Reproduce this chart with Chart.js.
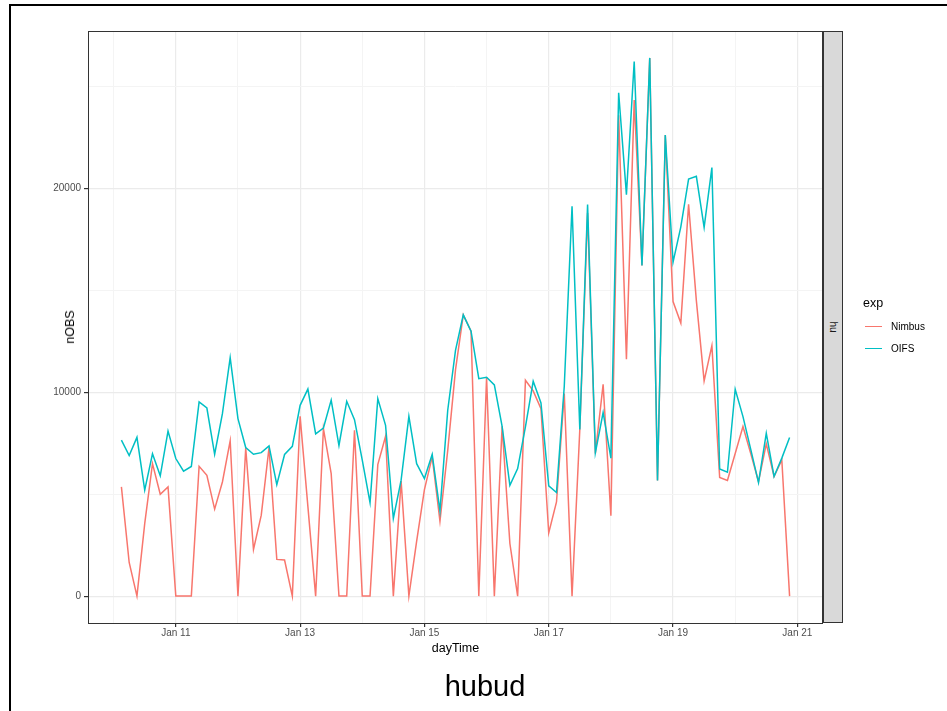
<!DOCTYPE html>
<html>
<head>
<meta charset="utf-8">
<script src="https://cdn.jsdelivr.net/npm/chart.js@4.4.0/dist/chart.umd.min.js"></script>
<style>
  body { margin: 0; background: #fff; font-family: 'Liberation Sans', Arial, sans-serif; }
  #wrap { position: relative; width: 947px; height: 711px; overflow: hidden; }
  #frame { position: absolute; left: 9px; top: 4px; width: 980px; height: 760px; border-left: 2px solid #000; border-top: 2px solid #000; }
  #box { position: absolute; left: 0; top: 0; width: 947px; height: 711px; }
  .txt { position: absolute; white-space: nowrap; color: #000; }
  #strip { position: absolute; left: 823px; top: 31px; width: 20px; height: 592px; box-sizing: border-box; background: #D9D9D9; border: 1px solid #333; }
  .key { position: absolute; left: 865px; width: 17px; height: 1.5px; }
</style>
</head>
<body>
<div id="wrap">
  <div id="box"><canvas id="graf" width="947" height="711"></canvas></div>
  <div id="frame"></div>
  <div id="strip"></div>
  <div class="txt" style="left:833px;top:327px;font-size:10px;color:#1A1A1A;transform:translate(-50%,-50%) rotate(90deg);">hu</div>
  <div class="txt" style="left:70px;top:327px;font-size:12.5px;transform:translate(-50%,-50%) rotate(-90deg);">nOBS</div>
  <div class="txt" style="left:455.5px;top:648px;font-size:12.5px;transform:translate(-50%,-50%);">dayTime</div>
  <div class="txt" style="left:485px;top:686px;font-size:29px;transform:translate(-50%,-50%);">hubud</div>
  <div class="txt" style="left:863px;top:303px;font-size:12.5px;transform:translateY(-50%);">exp</div>
  <div class="key" style="top:325.5px;background:#F8766D;"></div>
  <div class="key" style="top:347.5px;background:#00BFC4;"></div>
  <div class="txt" style="left:891px;top:326px;font-size:10px;transform:translateY(-50%);">Nimbus</div>
  <div class="txt" style="left:891px;top:348px;font-size:10px;transform:translateY(-50%);">OIFS</div>
</div>
<script>
// day of January, 3-hourly
const dayTime = [
  10.125, 10.25, 10.375, 10.5, 10.625, 10.75, 10.875,
  11, 11.125, 11.25, 11.375, 11.5, 11.625, 11.75, 11.875,
  12, 12.125, 12.25, 12.375, 12.5, 12.625, 12.75, 12.875,
  13, 13.125, 13.25, 13.375, 13.5, 13.625, 13.75, 13.875,
  14, 14.125, 14.25, 14.375, 14.5, 14.625, 14.75, 14.875,
  15, 15.125, 15.25, 15.375, 15.5, 15.625, 15.75, 15.875,
  16, 16.125, 16.25, 16.375, 16.5, 16.625, 16.75, 16.875,
  17, 17.125, 17.25, 17.375, 17.5, 17.625, 17.75, 17.875,
  18, 18.125, 18.25, 18.375, 18.5, 18.625, 18.75, 18.875,
  19, 19.125, 19.25, 19.375, 19.5, 19.625, 19.75, 19.875,
  20, 20.125, 20.25, 20.375, 20.5, 20.625, 20.75, 20.875
];

const nimbus = [
  5360, 1650, 0, 3560, 6500, 5000, 5360,
  0, 0, 0, 6370, 5930, 4270, 5600, 7620,
  0, 7270, 2290, 3970, 7290, 1800, 1770, 0,
  8820, 4400, 0, 8220, 6010, 0, 0, 8140,
  0, 0, 6450, 7840, 0, 5640, 0, 2700,
  5230, 6830, 3680, 7150, 11100, 13800, 13000, 0,
  10720, 0, 8330, 2580, 0, 10590, 10070, 9200,
  3100, 4620, 9940, 0, 8180, 18800, 7000, 10390,
  3940, 23600, 11620, 24340, 16220, 26400, 5670, 22630,
  14450, 13400, 19230, 14500, 10560, 12290, 5820, 5670,
  7000, 8320, 7000, 5620, 7470, 5870, 6680, 0
];

const oifs = [
  7650, 6900, 7790, 5200, 6980, 5900, 8100,
  6750, 6130, 6360, 9530, 9230, 6960, 8950, 11700,
  8710, 7290, 6960, 7040, 7370, 5470, 6950, 7350,
  9360, 10160, 7960, 8250, 9620, 7390, 9560, 8660,
  6670, 4590, 9690, 8380, 3810, 5690, 8820, 6500,
  5770, 6950, 4180, 9120, 12060, 13800, 13000, 10670,
  10740, 10360, 8330, 5440, 6260, 8300, 10540, 9480,
  5410, 5080, 10300, 19130, 8180, 19220, 7030, 9010,
  6770, 24700, 19700, 26230, 16220, 26410, 5670, 22630,
  16390, 18120, 20460, 20600, 18090, 21030, 6240, 6080,
  10150, 8810, 7200, 5570, 7990, 5870, 6770, 7780
];

const xGridDays = [10, 11, 12, 13, 14, 15, 16, 17, 18, 19, 20, 21];
const xTickDays = [11, 13, 15, 17, 19, 21];
const xTickLabels = ['Jan 11', 'Jan 13', 'Jan 15', 'Jan 17', 'Jan 19', 'Jan 21'];
const yGridValues = [0, 5000, 10000, 15000, 20000, 25000];
const yTickValues = [0, 10000, 20000];

const toPoints = (ys) => ys.map((y, i) => ({ x: dayTime[i], y: y }));

const panelBorder = {
  id: 'panelBorder',
  afterDraw(chart) {
    const a = chart.chartArea;
    const c = chart.ctx;
    c.save();
    c.strokeStyle = '#333333';
    c.lineWidth = 1;
    c.strokeRect(a.left + 0.5, a.top + 0.5, a.right - a.left - 1, a.bottom - a.top);
    c.restore();
  }
};

const isMajorX = (v) => xTickDays.includes(v);
const isMajorY = (v) => yTickValues.includes(v);

const ctx = document.getElementById('graf').getContext('2d');

new Chart(ctx, {
  type: 'line',
  data: {
    datasets: [
      {
        label: 'Nimbus',
        data: toPoints(nimbus),
        borderColor: '#F8766D',
        borderWidth: 1.5,
        pointRadius: 0,
        tension: 0,
        order: 1,
      },
      {
        label: 'OIFS',
        data: toPoints(oifs),
        borderColor: '#00BFC4',
        borderWidth: 1.5,
        pointRadius: 0,
        tension: 0,
        order: 0,
      },
    ],
  },
  options: {
    responsive: false,
    animation: false,
    layout: { padding: { left: 0, right: 124, top: 31, bottom: 68 } },
    plugins: { legend: { display: false }, tooltip: { enabled: false } },
    scales: {
      x: {
        type: 'linear',
        min: 9.5875,
        max: 21.4125,
        afterBuildTicks: (scale) => { scale.ticks = xGridDays.map((v) => ({ value: v })); },
        afterFit: (scale) => { scale.height = 20; },
        border: { display: false },
        grid: {
          color: (c) => isMajorX(c.tick.value) ? '#EBEBEB' : '#F4F4F4',
          lineWidth: (c) => isMajorX(c.tick.value) ? 1.2 : 1,
          tickColor: (c) => isMajorX(c.tick.value) ? '#333333' : 'rgba(0,0,0,0)',
          tickLength: 4,
        },
        ticks: {
          autoSkip: false,
          maxRotation: 0,
          padding: 0,
          color: '#4D4D4D',
          font: { family: "'Liberation Sans', Arial, sans-serif", size: 10 },
          callback: (value) => {
            const k = xTickDays.indexOf(value);
            return k >= 0 ? xTickLabels[k] : '';
          },
        },
      },
      y: {
        min: -1320,
        max: 27730,
        afterBuildTicks: (scale) => { scale.ticks = yGridValues.map((v) => ({ value: v })); },
        afterFit: (scale) => { scale.width = 88; },
        border: { display: false },
        grid: {
          color: (c) => isMajorY(c.tick.value) ? '#EBEBEB' : '#F4F4F4',
          lineWidth: (c) => isMajorY(c.tick.value) ? 1.2 : 1,
          tickColor: (c) => isMajorY(c.tick.value) ? '#333333' : 'rgba(0,0,0,0)',
          tickLength: 4,
        },
        ticks: {
          autoSkip: false,
          padding: 3,
          color: '#4D4D4D',
          font: { family: "'Liberation Sans', Arial, sans-serif", size: 10 },
          callback: (value) => isMajorY(value) ? String(value) : '',
        },
      },
    },
  },
  plugins: [panelBorder],
});
</script>
</body>
</html>
